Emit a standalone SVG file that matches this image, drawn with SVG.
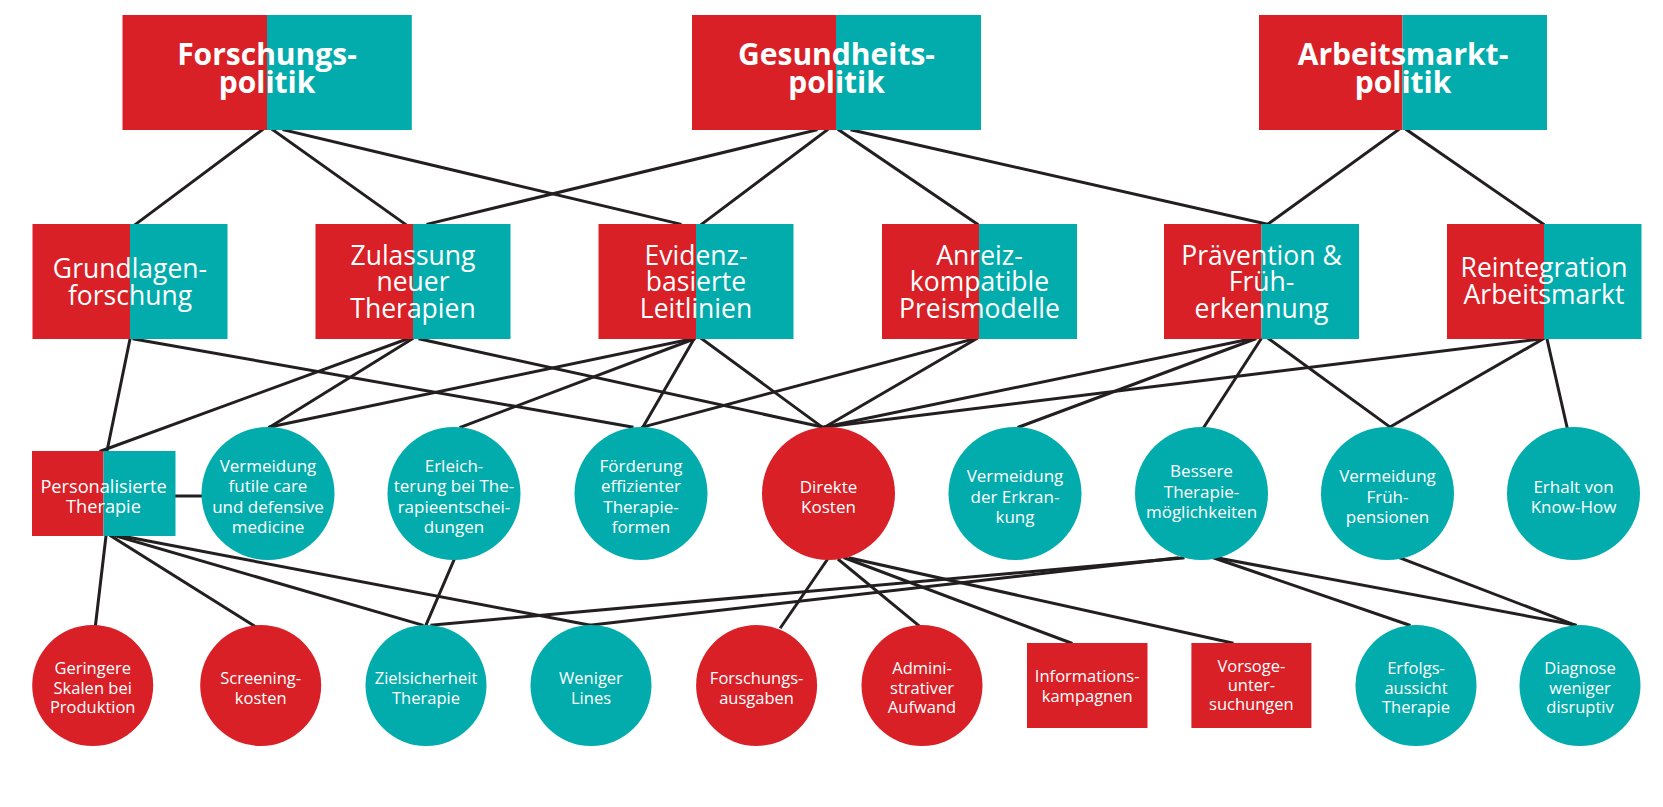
<svg xmlns="http://www.w3.org/2000/svg" width="1663" height="807" viewBox="0 0 1663 807">
  <style>
    .r{fill:#d92027}
    .t{fill:#03acac}
    #connectors line{stroke:#231f20;stroke-width:3;stroke-linecap:square}
    text{font-family:"Open Sans","Liberation Sans",sans-serif;fill:#ffffff;text-anchor:middle}
    .h1{font-size:30px;font-weight:700}
    .h2{font-size:26.5px}
    .h3{font-size:17px}
    .h3w{font-size:18.2px}
    .h4{font-size:16.5px}
  </style>
  <rect width="1663" height="807" fill="#ffffff"/>

  <!-- connectors -->
  <g id="connectors">
    <!-- policy fields to levers -->
    <line x1="262" y1="130" x2="136" y2="224"/>
    <line x1="273" y1="130" x2="405" y2="224"/>
    <line x1="284" y1="130" x2="680" y2="224"/>
    <line x1="816" y1="130" x2="428" y2="224"/>
    <line x1="827" y1="130" x2="702" y2="224"/>
    <line x1="839" y1="130" x2="977" y2="224"/>
    <line x1="852" y1="130" x2="1266" y2="224"/>
    <line x1="1398" y1="130" x2="1268" y2="224"/>
    <line x1="1407" y1="130" x2="1543" y2="224"/>
    <!-- levers to effects -->
    <line x1="130" y1="339" x2="107" y2="451"/>
    <line x1="134" y1="339" x2="632" y2="427"/>
    <line x1="407" y1="339" x2="101" y2="451"/>
    <line x1="412" y1="339" x2="270" y2="427"/>
    <line x1="420" y1="339" x2="822" y2="427"/>
    <line x1="691" y1="339" x2="270" y2="427"/>
    <line x1="694" y1="339" x2="461" y2="427"/>
    <line x1="694" y1="339" x2="643" y2="427"/>
    <line x1="702" y1="339" x2="822" y2="427"/>
    <line x1="973" y1="339" x2="643" y2="427"/>
    <line x1="976" y1="339" x2="825" y2="427"/>
    <line x1="1250" y1="339" x2="825" y2="427"/>
    <line x1="1255" y1="339" x2="1019" y2="427"/>
    <line x1="1261" y1="339" x2="1204" y2="427"/>
    <line x1="1269" y1="339" x2="1390" y2="427"/>
    <line x1="1540" y1="339" x2="825" y2="427"/>
    <line x1="1543" y1="339" x2="1390" y2="427"/>
    <line x1="1547" y1="339" x2="1567" y2="427"/>
    <!-- effects to outcomes -->
    <line x1="175" y1="496" x2="202" y2="496"/>
    <line x1="106" y1="536" x2="95.5" y2="625"/>
    <line x1="111" y1="536" x2="256" y2="627"/>
    <line x1="116" y1="536" x2="422" y2="625"/>
    <line x1="122" y1="536" x2="589" y2="625"/>
    <line x1="454" y1="560" x2="426" y2="625"/>
    <line x1="827" y1="560" x2="781" y2="627"/>
    <line x1="839" y1="560" x2="918" y2="625"/>
    <line x1="845" y1="558" x2="1071" y2="643"/>
    <line x1="850" y1="558" x2="1232" y2="643"/>
    <line x1="1183" y1="558" x2="432" y2="625"/>
    <line x1="1177" y1="558" x2="591" y2="625"/>
    <line x1="1214" y1="558" x2="1409" y2="625"/>
    <line x1="1218" y1="558" x2="1575" y2="625"/>
    <line x1="1400" y1="558" x2="1575" y2="625"/>
  </g>

  <!-- policy fields -->
  <g id="forschungspolitik">
    <rect class="r" x="122.5" y="15" width="144.5" height="115"/>
    <rect class="t" x="267" y="15" width="144.8" height="115"/>
    <text class="h1" x="267" y="65">Forschungs-<tspan x="267" dy="28">politik</tspan></text>
  </g>
  <g id="gesundheitspolitik">
    <rect class="r" x="692" y="15" width="144" height="115"/>
    <rect class="t" x="836" y="15" width="145" height="115"/>
    <text class="h1" x="836.5" y="65">Gesundheits-<tspan x="836.5" dy="28">politik</tspan></text>
  </g>
  <g id="arbeitsmarktpolitik">
    <rect class="r" x="1259" y="15" width="143.5" height="115"/>
    <rect class="t" x="1402.5" y="15" width="144.5" height="115"/>
    <text class="h1" x="1403" y="65">Arbeitsmarkt-<tspan x="1403" dy="28">politik</tspan></text>
  </g>

  <!-- levers -->
  <g id="grundlagenforschung">
    <rect class="r" x="32.5" y="224" width="97.5" height="115"/>
    <rect class="t" x="130" y="224" width="97.5" height="115"/>
    <text class="h2" x="130" y="278">Grundlagen-<tspan x="130" dy="27">forschung</tspan></text>
  </g>
  <g id="zulassung">
    <rect class="r" x="315.5" y="224" width="97.5" height="115"/>
    <rect class="t" x="413" y="224" width="97.5" height="115"/>
    <text class="h2" x="413" y="264.5">Zulassung<tspan x="413" dy="26.5">neuer</tspan><tspan x="413" dy="26.5">Therapien</tspan></text>
  </g>
  <g id="leitlinien">
    <rect class="r" x="598.5" y="224" width="97.5" height="115"/>
    <rect class="t" x="696" y="224" width="97.5" height="115"/>
    <text class="h2" x="696" y="264.5">Evidenz-<tspan x="696" dy="26.5">basierte</tspan><tspan x="696" dy="26.5">Leitlinien</tspan></text>
  </g>
  <g id="preismodelle">
    <rect class="r" x="882" y="224" width="97" height="115"/>
    <rect class="t" x="979" y="224" width="98" height="115"/>
    <text class="h2" x="979.5" y="264.5">Anreiz-<tspan x="979.5" dy="26.5">kompatible</tspan><tspan x="979.5" dy="26.5">Preismodelle</tspan></text>
  </g>
  <g id="praevention">
    <rect class="r" x="1164" y="224" width="97.5" height="115"/>
    <rect class="t" x="1261.5" y="224" width="97.5" height="115"/>
    <text class="h2" x="1261.5" y="264.5">Prävention &amp;<tspan x="1261.5" dy="26.5">Früh-</tspan><tspan x="1261.5" dy="26.5">erkennung</tspan></text>
  </g>
  <g id="reintegration">
    <rect class="r" x="1447" y="224" width="97" height="115"/>
    <rect class="t" x="1544" y="224" width="97.5" height="115"/>
    <text class="h2" x="1544" y="277">Reintegration<tspan x="1544" dy="27">Arbeitsmarkt</tspan></text>
  </g>

  <!-- effects -->
  <g id="personalisierte-therapie">
    <rect class="r" x="32" y="451" width="71.5" height="85"/>
    <rect class="t" x="103.5" y="451" width="72" height="85"/>
    <text class="h3w" x="103.5" y="492.7">Personalisierte<tspan x="103.5" dy="20">Therapie</tspan></text>
  </g>
  <g id="futile-care">
    <circle class="t" cx="268" cy="493.5" r="66.5"/>
    <text class="h3" x="268" y="472">Vermeidung<tspan x="268" dy="20.3">futile care</tspan><tspan x="268" dy="20.3">und defensive</tspan><tspan x="268" dy="20.3">medicine</tspan></text>
  </g>
  <g id="therapieentscheidungen">
    <circle class="t" cx="454" cy="493.5" r="66.5"/>
    <text class="h3" x="454" y="472">Erleich-<tspan x="454" dy="20.3">terung bei The-</tspan><tspan x="454" dy="20.3">rapieentschei-</tspan><tspan x="454" dy="20.3">dungen</tspan></text>
  </g>
  <g id="therapieformen">
    <circle class="t" cx="641" cy="493.5" r="66.5"/>
    <text class="h3" x="641" y="472">Förderung<tspan x="641" dy="20.3">effizienter</tspan><tspan x="641" dy="20.3">Therapie-</tspan><tspan x="641" dy="20.3">formen</tspan></text>
  </g>
  <g id="direkte-kosten">
    <circle class="r" cx="828.5" cy="493.5" r="66.5"/>
    <text class="h3" x="828.5" y="492.5">Direkte<tspan x="828.5" dy="20.3">Kosten</tspan></text>
  </g>
  <g id="erkrankung">
    <circle class="t" cx="1015" cy="493.5" r="66.5"/>
    <text class="h3" x="1015" y="482.2">Vermeidung<tspan x="1015" dy="20.3">der Erkran-</tspan><tspan x="1015" dy="20.3">kung</tspan></text>
  </g>
  <g id="therapiemoeglichkeiten">
    <circle class="t" cx="1201.5" cy="493.5" r="66.5"/>
    <text class="h3" x="1201.5" y="477.3">Bessere<tspan x="1201.5" dy="20.5">Therapie-</tspan><tspan x="1201.5" dy="20.5">möglichkeiten</tspan></text>
  </g>
  <g id="fruehpensionen">
    <circle class="t" cx="1387.5" cy="493.5" r="66.5"/>
    <text class="h3" x="1387.5" y="482.2">Vermeidung<tspan x="1387.5" dy="20.3">Früh-</tspan><tspan x="1387.5" dy="20.3">pensionen</tspan></text>
  </g>
  <g id="know-how">
    <circle class="t" cx="1573.5" cy="493.5" r="66.5"/>
    <text class="h3" x="1573.5" y="492.5">Erhalt von<tspan x="1573.5" dy="20.3">Know-How</tspan></text>
  </g>

  <!-- outcomes -->
  <g id="skalen">
    <circle class="r" cx="92.7" cy="685.5" r="60.5"/>
    <text class="h4" x="92.7" y="674">Geringere<tspan x="92.7" dy="19.5">Skalen bei</tspan><tspan x="92.7" dy="19.5">Produktion</tspan></text>
  </g>
  <g id="screeningkosten">
    <circle class="r" cx="260.7" cy="685.5" r="60.5"/>
    <text class="h4" x="260.7" y="684">Screening-<tspan x="260.7" dy="19.5">kosten</tspan></text>
  </g>
  <g id="zielsicherheit">
    <circle class="t" cx="426" cy="685.5" r="60.5"/>
    <text class="h4" x="426" y="684">Zielsicherheit<tspan x="426" dy="19.5">Therapie</tspan></text>
  </g>
  <g id="weniger-lines">
    <circle class="t" cx="591" cy="685.5" r="60.5"/>
    <text class="h4" x="591" y="684">Weniger<tspan x="591" dy="19.5">Lines</tspan></text>
  </g>
  <g id="forschungsausgaben">
    <circle class="r" cx="756.6" cy="685.5" r="60.5"/>
    <text class="h4" x="756.6" y="684">Forschungs-<tspan x="756.6" dy="19.5">ausgaben</tspan></text>
  </g>
  <g id="aufwand">
    <circle class="r" cx="922" cy="685.5" r="60.5"/>
    <text class="h4" x="922" y="674">Admini-<tspan x="922" dy="19.5">strativer</tspan><tspan x="922" dy="19.5">Aufwand</tspan></text>
  </g>
  <g id="informationskampagnen">
    <rect class="r" x="1027" y="643" width="120.5" height="85"/>
    <text class="h4" x="1087.2" y="682">Informations-<tspan x="1087.2" dy="19.5">kampagnen</tspan></text>
  </g>
  <g id="vorsorgeuntersuchungen">
    <rect class="r" x="1191.4" y="643" width="120" height="85"/>
    <text class="h4" x="1251.4" y="671.5">Vorsoge-<tspan x="1251.4" dy="19">unter-</tspan><tspan x="1251.4" dy="19">suchungen</tspan></text>
  </g>
  <g id="erfolgsaussicht">
    <circle class="t" cx="1416" cy="685.5" r="60.5"/>
    <text class="h4" x="1416" y="674">Erfolgs-<tspan x="1416" dy="19.5">aussicht</tspan><tspan x="1416" dy="19.5">Therapie</tspan></text>
  </g>
  <g id="diagnose">
    <circle class="t" cx="1580" cy="685.5" r="60.5"/>
    <text class="h4" x="1580" y="674">Diagnose<tspan x="1580" dy="19.5">weniger</tspan><tspan x="1580" dy="19.5">disruptiv</tspan></text>
  </g>
</svg>
